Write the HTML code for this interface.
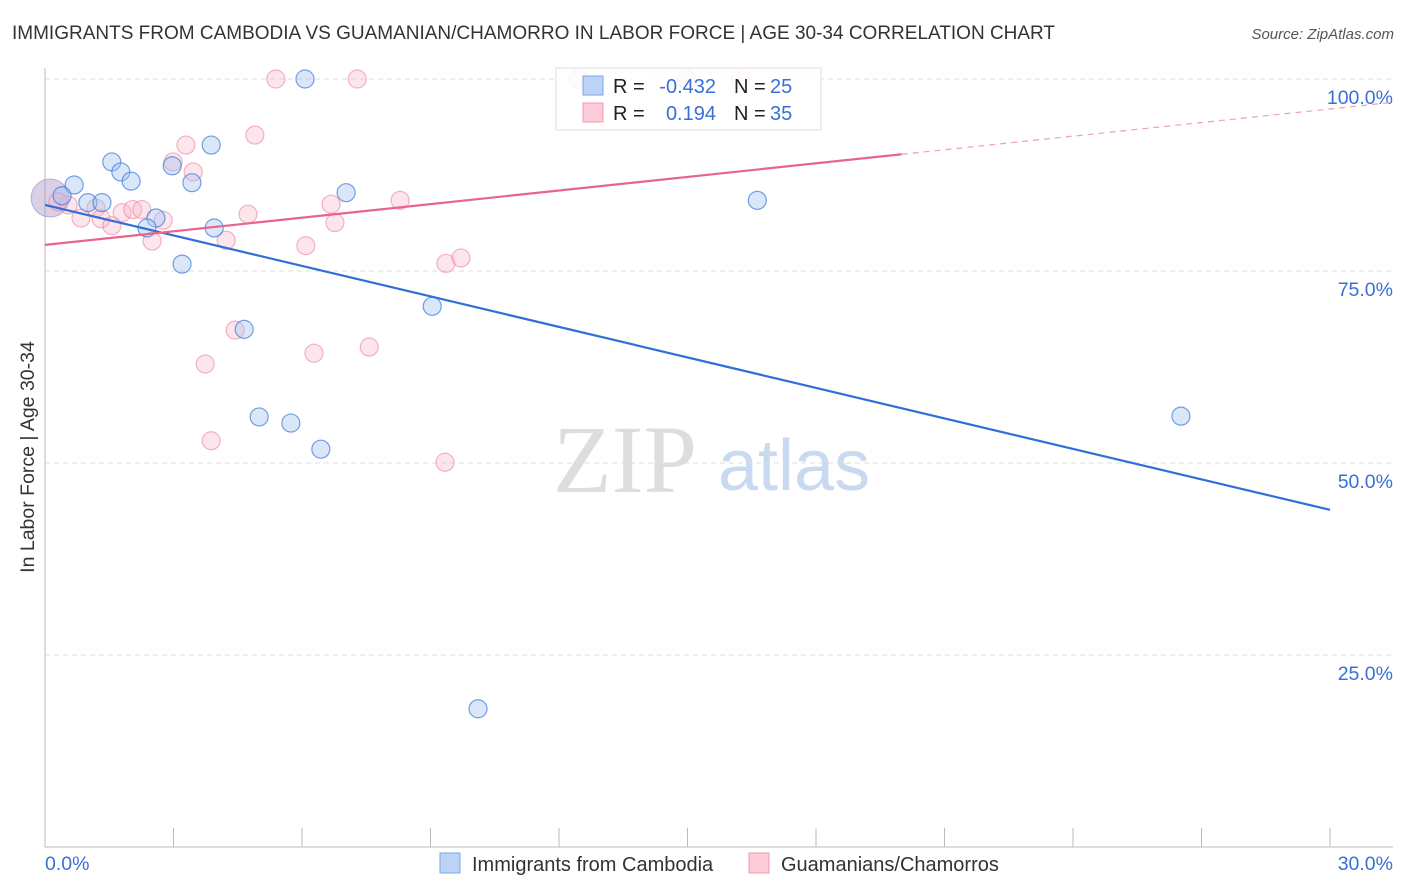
<!DOCTYPE html>
<html><head><meta charset="utf-8"><style>
body{margin:0;background:#fff;font-family:"Liberation Sans",sans-serif;}
#c{position:relative;width:1406px;height:892px;overflow:hidden;}
</style></head><body>
<div id="c">
<svg id="svg" width="1406" height="892" xmlns="http://www.w3.org/2000/svg">
<text x="12" y="39" font-size="19" fill="#333">IMMIGRANTS FROM CAMBODIA VS GUAMANIAN/CHAMORRO IN LABOR FORCE | AGE 30-34 CORRELATION CHART</text>
<text x="1394" y="39" font-size="15" fill="#555" font-style="italic" text-anchor="end">Source: ZipAtlas.com</text>
<text x="0" y="0" transform="translate(34,457) rotate(-90)" font-size="19.5" fill="#333" text-anchor="middle">In Labor Force | Age 30-34</text>
<g>
<text x="553" y="492" font-size="96" font-family="Liberation Serif,serif" fill="#ddd">ZIP</text>
<text x="718" y="490" font-size="72" fill="#c9daf0">atlas</text>
</g>
<g id="grid"></g><g id="axes"></g><g id="pts"></g><g id="lines"></g>
<g>
<rect x="556" y="68" width="265" height="62" fill="rgba(255,255,255,0.85)" stroke="#ddd"/>
<rect x="583" y="76" width="20" height="19" fill="#bcd3f5" stroke="#7aa6e8"/>
<rect x="583" y="103" width="20" height="19" fill="#fbcbd8" stroke="#f09ab2"/>
<text font-size="20" fill="#222"><tspan x="613" y="93">R =</tspan><tspan x="613" y="120">R =</tspan><tspan x="734" y="93">N =</tspan><tspan x="734" y="120">N =</tspan></text>
<text font-size="20" fill="#3a6fd8"><tspan x="716" y="93" text-anchor="end">-0.432</tspan><tspan x="716" y="120" text-anchor="end">0.194</tspan><tspan x="770" y="93">25</tspan><tspan x="770" y="120">35</tspan></text>
</g>
<g>
<rect x="440" y="853" width="20" height="20" fill="#bcd3f5" stroke="#7aa6e8"/>
<text x="472" y="871" font-size="20" fill="#333">Immigrants from Cambodia</text>
<rect x="749" y="853" width="20" height="20" fill="#fbcbd8" stroke="#f09ab2"/>
<text x="781" y="871" font-size="20" fill="#333">Guamanians/Chamorros</text>
</g>
</svg></div>
<script>
const yTicks=[100,75,50,25];
const xTickLabels=["0.0%","30.0%"];
const blueX=[6.07,3.88,1.56,1.77,2.97,2.01,3.43,0.68,7.03,0.40,1.00,1.33,2.59,2.38,3.95,3.20,9.04,4.65,5.00,5.74,6.44,16.63,26.52,10.11];
const blueY=[100,91.4,89.2,87.9,88.7,86.7,86.5,86.2,85.2,84.8,83.9,83.9,81.9,80.6,80.6,75.9,70.4,67.4,56.0,55.2,51.8,84.2,56.1,18.0];
const pinkX=[5.39,7.29,12.45,14.97,16.23,4.90,3.29,2.99,3.46,8.29,0.54,1.19,1.80,2.05,2.26,0.84,1.31,1.56,2.76,4.74,6.68,6.77,4.23,2.50,6.09,9.36,9.71,4.44,6.28,7.57,3.74,3.88,9.34,0.30];
const pinkY=[100,100,100,100,100,92.7,91.4,89.2,87.9,84.2,83.6,83.2,82.6,83.0,83.0,81.9,81.8,80.9,81.6,82.4,83.7,81.3,79.0,78.9,78.3,76.0,76.7,67.3,64.3,65.1,62.9,52.9,50.1,84.0];
const bigX=[0.12], bigY=[84.5];
const blueTrend=[83.6,43.9];
const pinkTrend=[78.4,96.1];
const NS="http://www.w3.org/2000/svg";
const xs=v=>45+v*1285/30, ys=v=>847-v*7.68;
function mk(tag,attrs,parent){const e=document.createElementNS(NS,tag);for(const k in attrs)e.setAttribute(k,attrs[k]);document.getElementById(parent).appendChild(e);return e;}
yTicks.forEach(t=>{
  const l=mk('line',{x1:45,x2:1393,y1:ys(t),y2:ys(t),stroke:'#ddd','stroke-dasharray':'5,4'},'grid');
  
  
  const tx=mk('text',{x:1393,y:ys(t)+25,'font-size':19.5,fill:'#3a6fd8','text-anchor':'end'},'grid');
  tx.textContent=t.toFixed(1)+'%';
  
  
});
let a=mk('line',{x1:45,x2:45,y1:68,y2:847,stroke:'#bbb'},'axes');


a=mk('line',{x1:45,x2:1393,y1:847,y2:847,stroke:'#bbb'},'axes');


for(let i=1;i<=10;i++){const t=mk('line',{x1:xs(i*3),x2:xs(i*3),y1:828,y2:847,stroke:'#bbb'},'axes');

}
let t1=mk('text',{x:45,y:870,'font-size':19.5,fill:'#3a6fd8'},'axes');t1.textContent=xTickLabels[0];


let t2=mk('text',{x:1393,y:870,'font-size':19.5,fill:'#3a6fd8','text-anchor':'end'},'axes');t2.textContent=xTickLabels[1];


bigX.forEach((v,i)=>{const c=mk('circle',{cx:xs(v),cy:ys(bigY[i]),r:19,fill:'rgba(170,150,200,0.45)',stroke:'rgba(140,140,210,0.6)'},'pts');

});
pinkX.forEach((v,i)=>{const c=mk('circle',{cx:xs(v),cy:ys(pinkY[i]),r:9,fill:'rgba(248,180,200,0.35)',stroke:'rgba(236,130,160,0.6)','stroke-width':1.2},'pts');

});
blueX.forEach((v,i)=>{const c=mk('circle',{cx:xs(v),cy:ys(blueY[i]),r:9,fill:'rgba(160,195,240,0.4)',stroke:'rgba(60,120,220,0.7)','stroke-width':1.2},'pts');

});
const pAt=x=>pinkTrend[0]+(pinkTrend[1]-pinkTrend[0])*x/30;
let l=mk('line',{x1:xs(0),y1:ys(blueTrend[0]),x2:xs(30),y2:ys(blueTrend[1]),stroke:'#2f6fd6','stroke-width':2.2},'lines');


l=mk('line',{x1:xs(0),y1:ys(pAt(0)),x2:xs(20),y2:ys(pAt(20)),stroke:'#e8648c','stroke-width':2.2},'lines');


l=mk('line',{x1:xs(20),y1:ys(pAt(20)),x2:xs(31.5),y2:ys(pAt(31.5)),stroke:'#eda0b5','stroke-width':1.2,'stroke-dasharray':'6,5'},'lines');


</script>
</body></html>
